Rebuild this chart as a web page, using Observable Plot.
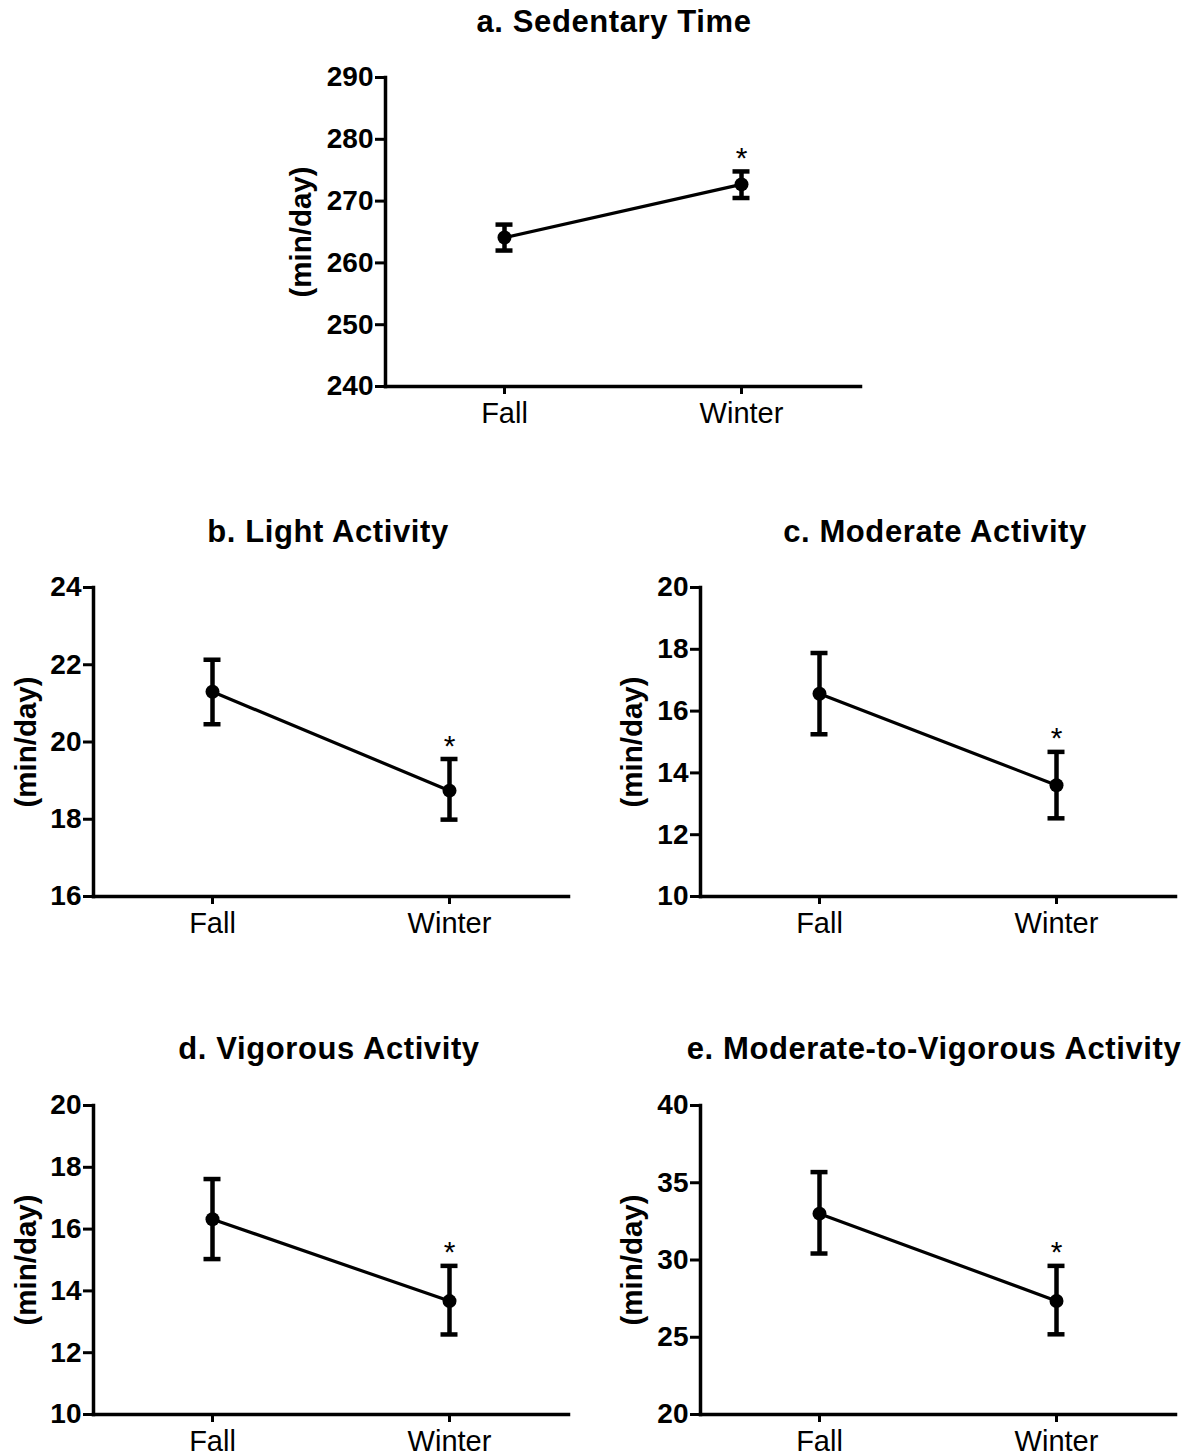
<!DOCTYPE html>
<html>
<head>
<meta charset="utf-8">
<script src="https://cdn.jsdelivr.net/npm/d3@7"></script>
<script src="https://cdn.jsdelivr.net/npm/@observablehq/plot@0.6"></script>
<style>
  body { margin: 0; background: #fff; }
  #root { position: relative; width: 1202px; height: 1456px; overflow: hidden; font-family: "Liberation Sans", Arial, sans-serif; color: #000; }
  .title { position: absolute; font-weight: bold; font-size: 31px; letter-spacing: 0.6px; line-height: 34px; width: 700px; text-align: center; white-space: nowrap; }
  .panel { position: absolute; }
  .panel svg { overflow: visible; }
</style>
</head>
<body>
<div id="root"></div>
<script>
// ---- data ----
const seasons = ["Fall", "Winter"];
const significance = ["", "*"];
const unitLabel = "(min/day)";
const panelTitles = [
  "a. Sedentary Time",
  "b. Light Activity",
  "c. Moderate Activity",
  "d. Vigorous Activity",
  "e. Moderate-to-Vigorous Activity"
];

const sedentaryMean = [264.1, 272.7];
const sedentaryLow  = [262.0, 270.5];
const sedentaryHigh = [266.2, 274.8];

const lightMean = [21.30, 18.74];
const lightLow  = [20.46, 17.99];
const lightHigh = [22.13, 19.56];

const moderateMean = [16.56, 13.60];
const moderateLow  = [15.25, 12.53];
const moderateHigh = [17.88, 14.68];

const vigorousMean = [16.32, 13.67];
const vigorousLow  = [15.03, 12.59];
const vigorousHigh = [17.62, 14.81];

const mvpaMean = [33.00, 27.35];
const mvpaLow  = [30.42, 25.19];
const mvpaHigh = [35.69, 29.62];

const sedentaryTicks = [240, 250, 260, 270, 280, 290];
const lightTicks     = [16, 18, 20, 22, 24];
const moderateTicks  = [10, 12, 14, 16, 18, 20];
const vigorousTicks  = [10, 12, 14, 16, 18, 20];
const mvpaTicks      = [20, 25, 30, 35, 40];

// ---- layout (page positions of each plot frame) ----
const layout = [
  {left: 385, top: 77,   labelOffset: 84, titleCenter: 614, titleTop: 5},
  {left: 93,  top: 587,  labelOffset: 67, titleCenter: 328, titleTop: 515},
  {left: 700, top: 587,  labelOffset: 68, titleCenter: 935, titleTop: 515},
  {left: 93,  top: 1105, labelOffset: 67, titleCenter: 329, titleTop: 1032},
  {left: 700, top: 1105, labelOffset: 68, titleCenter: 934, titleTop: 1032}
];

const series = [
  [sedentaryMean, sedentaryLow, sedentaryHigh, sedentaryTicks],
  [lightMean, lightLow, lightHigh, lightTicks],
  [moderateMean, moderateLow, moderateHigh, moderateTicks],
  [vigorousMean, vigorousLow, vigorousHigh, vigorousTicks],
  [mvpaMean, mvpaLow, mvpaHigh, mvpaTicks]
];

const root = document.getElementById("root");
const ML = 110, MR = 20, MT = 20, MB = 60;
const frameW = 475, frameH = 309;

series.forEach(([mean, low, high, ticks], i) => {
  const L = layout[i];
  const rows = seasons.map((s, j) => ({season: s, mean: mean[j], low: low[j], high: high[j], sig: significance[j]}));

  const chart = Plot.plot({
    width: frameW + ML + MR,
    height: frameH + MT + MB,
    marginLeft: ML, marginRight: MR, marginTop: MT, marginBottom: MB,
    style: {fontFamily: "Liberation Sans, Arial, sans-serif", color: "#000", background: "transparent", overflow: "visible"},
    x: {type: "band", domain: seasons, paddingInner: 0.9, paddingOuter: 0.45},
    y: {domain: [ticks[0], ticks[ticks.length - 1]], nice: false},
    marks: [
      Plot.frame({anchor: "left", stroke: "#000", strokeWidth: 3.5}),
      Plot.frame({anchor: "bottom", stroke: "#000", strokeWidth: 3.5}),
      Plot.axisY({ticks: ticks, tickSize: 10, tickPadding: 2, fontSize: 28, fontWeight: "bold", strokeWidth: 3, label: null}),
      Plot.axisX({tickSize: 8, tickPadding: 8, fontSize: 29, strokeWidth: 3, label: null}),
      Plot.text([unitLabel], {text: d => d, frameAnchor: "left", dx: -L.labelOffset, rotate: -90, fontSize: 29.5, fontWeight: "bold", textAnchor: "middle", lineAnchor: "middle"}),
      Plot.ruleX(rows, {x: "season", y1: "low", y2: "high", strokeWidth: 4.5}),
      Plot.tickY(rows, {x: "season", y: "low", strokeWidth: 4.5, insetLeft: 3.5, insetRight: 3.5}),
      Plot.tickY(rows, {x: "season", y: "high", strokeWidth: 4.5, insetLeft: 3.5, insetRight: 3.5}),
      Plot.line(rows, {x: "season", y: "mean", strokeWidth: 3.2}),
      Plot.dot(rows, {x: "season", y: "mean", r: 7, fill: "#000"}),
      Plot.text(rows, {x: "season", y: "high", text: "sig", dy: -13, fontSize: 30})
    ]
  });

  const holder = document.createElement("div");
  holder.className = "panel";
  holder.style.left = (L.left - ML) + "px";
  holder.style.top = (L.top - MT) + "px";
  holder.appendChild(chart);
  root.appendChild(holder);

  const t = document.createElement("div");
  t.className = "title";
  t.textContent = panelTitles[i];
  t.style.left = (L.titleCenter - 350) + "px";
  t.style.top = L.titleTop + "px";
  root.appendChild(t);
});
</script>
</body>
</html>
